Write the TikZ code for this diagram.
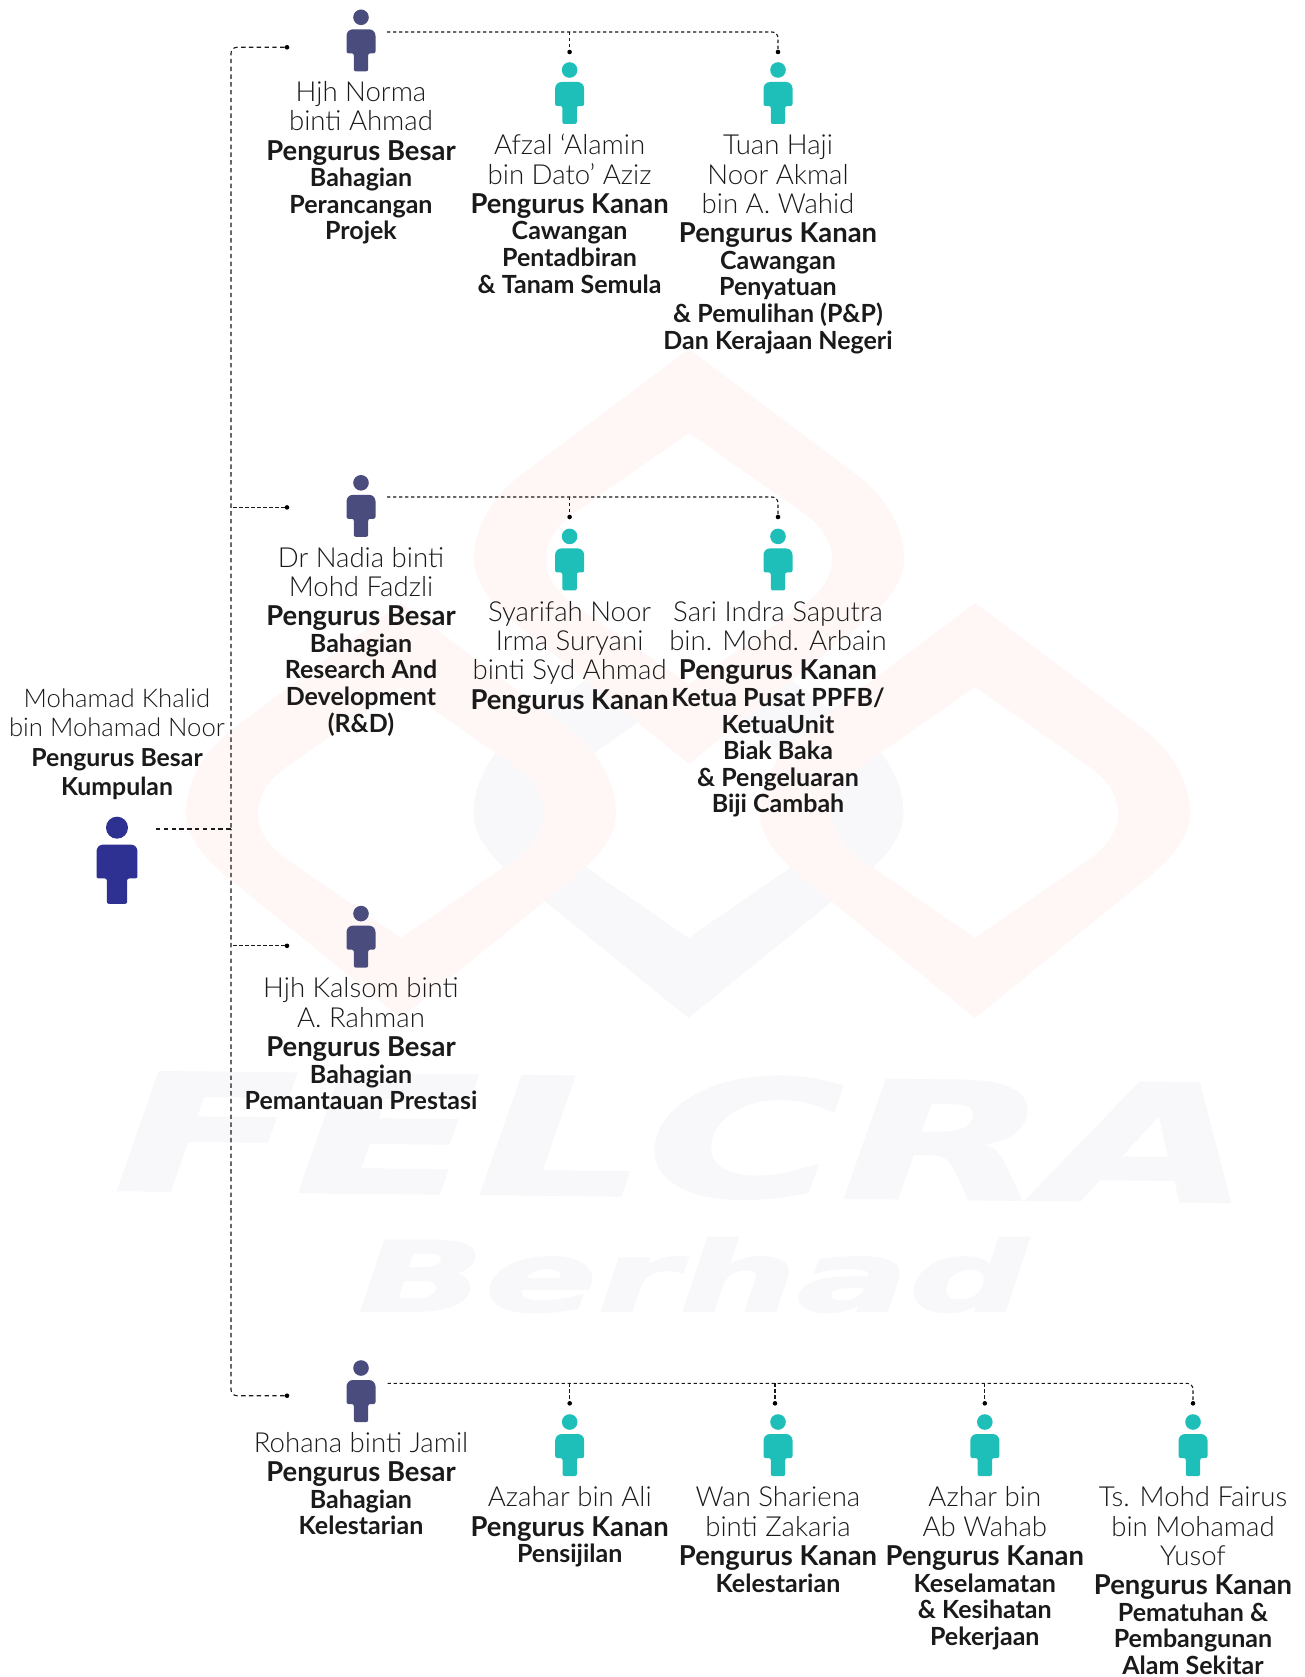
\documentclass[tikz,border=0pt]{standalone}
\usepackage{fontspec}
\setmainfont{Lato}
\newfontfamily\lightfam{Lato Light}
\newfontfamily\boldfam{Lato Bold}
\newfontfamily\wmfam[FakeBold=1.6]{DejaVu Sans Bold Oblique}
\definecolor{rootc}{HTML}{2E3192}
\definecolor{mgrc}{HTML}{494C7C}
\definecolor{tealc}{HTML}{1DBFB8}
\definecolor{wmred}{HTML}{FFF7F6}
\definecolor{wmblue}{HTML}{F8F8FB}
\definecolor{inkc}{HTML}{1A1A1A}
\newcommand\tightlines{\baselineskip=0pt\lineskip=0pt\lineskiplimit=0pt}
\newcommand\fn{\lightfam\fontsize{27.6}{0pt}\selectfont\rule[-7pt]{0pt}{29.3pt}}
\newcommand\fr{\lightfam\fontsize{25.7}{0pt}\selectfont\rule[-7pt]{0pt}{29.3pt}}
\newcommand\ft{\boldfam\fontsize{27.4}{0pt}\selectfont\rule[-7pt]{0pt}{29.3pt}}
\newcommand\frt{\boldfam\fontsize{24.8}{0pt}\selectfont\rule[-7pt]{0pt}{29.3pt}}
\newcommand\fs{\boldfam\fontsize{25}{0pt}\selectfont\rule[-7pt]{0pt}{26.6pt}}
\newcommand\person[5]{%
  \begin{scope}[shift={(#2,#3)},scale=#4]
    \coordinate (#1) at (0,31);
    \fill[#5] (0,8) circle (7.8);
    \fill[#5] [rounded corners=6.5] (-14.5,34) -- (-14.5,20) -- (14.5,20) -- (14.5,34)
      [rounded corners=2] -- (14.5,44) -- (7.2,44) -- (7.2,62) -- (-7.2,62) -- (-7.2,44) -- (-14.5,44) -- cycle;
  \end{scope}}
\newcommand\diamondmark[3]{%
  \fill[#3,even odd rule,shift={(#1,#2)}]
    (0,-210) -- (172,-81) .. controls (200,-58) and (215,-28) .. (215,0)
    .. controls (215,28) and (190,52) .. (160,75) -- (0,205) -- (-160,75)
    .. controls (-190,52) and (-215,28) .. (-215,0) .. controls (-215,-28) and (-200,-58) .. (-172,-81) -- cycle
    (0,-126) -- (116,-45) .. controls (134,-32) and (143,-16) .. (143,0)
    .. controls (143,16) and (134,32) .. (116,45) -- (0,125) -- (-116,45)
    .. controls (-134,32) and (-143,16) .. (-143,0) .. controls (-143,-16) and (-134,-32) .. (-116,-45) -- cycle;}
\tikzset{
  x=1pt,y=-1pt,
  label text/.style={anchor=north,align=center,inner sep=0pt,outer sep=0pt,text=inkc,font=\tightlines,yshift=0.8pt},
  watermark/.style={inner sep=0pt,text=wmblue},
  dotend/.style={circle,fill=black,inner sep=0pt,minimum size=4.6pt},
  link/.style={draw=inkc,line width=1.1pt,dash pattern=on 3.4pt off 2.6pt},
  spine/.style={draw=inkc,line width=1.1pt,dash pattern=on 4.4pt off 3.4pt},
}
\begin{document}
\begin{tikzpicture}
\useasboundingbox (0,0) rectangle (1304,1677);
\fill[white] (0,0) rectangle (1304,1677);
% watermark
\begin{scope}
  \clip (420,1100) -- (420,497) -- (689,724) -- (958,497) -- (958,1100) -- cycle;
  \diamondmark{688.5}{813}{wmblue}
\end{scope}
\diamondmark{401}{813}{wmred}
\diamondmark{975}{813}{wmred}
\diamondmark{689}{559}{wmred}
\node[watermark,xscale=1.64,rotate=-1] (wmA) at (684,1137) {\wmfam\fontsize{162}{170}\selectfont FELCRA};
\node[watermark,xscale=1.71] (wmB) at (693,1275) {\wmfam\fontsize{97}{100}\selectfont Berhad};
% icons
\person{root}{117}{816.4}{1.41}{rootc}
\person{norma}{361}{9.3}{1}{mgrc}
\person{nadia}{361}{474.8}{1}{mgrc}
\person{kalsom}{361}{905.6}{1}{mgrc}
\person{rohana}{361}{1360}{1}{mgrc}
\person{afzal}{569.6}{62}{1}{tealc}
\person{tuan}{778}{62}{1}{tealc}
\person{syarifah}{569.6}{528.4}{1}{tealc}
\person{sari}{778}{528.4}{1}{tealc}
\person{azahar}{569.7}{1414}{1}{tealc}
\person{wan}{778}{1414}{1}{tealc}
\person{azhar}{984.8}{1414}{1}{tealc}
\person{fairus}{1193}{1414}{1}{tealc}
% text
\node[label text] (rootT) at (117,686) {\fr Mohamad Khalid\\\fr bin Mohamad Noor\\\frt Pengurus Besar\\\frt Kumpulan};
\node[label text] (normaT) at (361,80) {\fn Hjh Norma\\\fn binti Ahmad\\\ft Pengurus Besar\\\fs Bahagian\\\fs Perancangan\\\fs Projek};
\node[label text] (afzalT) at (569.6,133.3) {\fn Afzal ‘Alamin\\\fn bin Dato’ Aziz\\\ft Pengurus Kanan\\\fs Cawangan\\\fs Pentadbiran\\\fs \& Tanam Semula};
\node[label text] (tuanT) at (778,133.3) {\fn Tuan Haji\\\fn Noor Akmal\\\fn bin A. Wahid\\\ft Pengurus Kanan\\\fs Cawangan\\\fs Penyatuan\\\fs \& Pemulihan (P\&P)\\\fs Dan Kerajaan Negeri};
\node[label text] (nadiaT) at (361,545.5) {\fn Dr Nadia binti\\\fn Mohd Fadzli\\\ft Pengurus Besar\\\fs Bahagian\\\fs Research And\\\fs Development\\\fs (R\&D)};
\node[label text] (syarifahT) at (569.6,599.7) {\fn Syarifah Noor\\\fn Irma Suryani\\\fn binti Syd Ahmad\\\ft Pengurus Kanan};
\node[label text] (sariT) at (778,599.7) {\fn Sari Indra Saputra\\\fn bin. Mohd. Arbain\\\ft Pengurus Kanan\\\fs Ketua Pusat PPFB/\\\fs KetuaUnit\\\fs Biak Baka\\\fs \& Pengeluaran\\\fs Biji Cambah};
\node[label text] (kalsomT) at (361,976.3) {\fn Hjh Kalsom binti\\\fn A. Rahman\\\ft Pengurus Besar\\\fs Bahagian\\\fs Pemantauan Prestasi};
\node[label text] (rohanaT) at (361,1430.7) {\fn Rohana binti Jamil\\\ft Pengurus Besar\\\fs Bahagian\\\fs Kelestarian};
\node[label text] (azaharT) at (569.7,1485.3) {\fn Azahar bin Ali\\\ft Pengurus Kanan\\\fs Pensijilan};
\node[label text] (wanT) at (778,1485.3) {\fn Wan Shariena\\\fn binti Zakaria\\\ft Pengurus Kanan\\\fs Kelestarian};
\node[label text] (azharT) at (984.8,1485.3) {\fn Azhar bin\\\fn Ab Wahab\\\ft Pengurus Kanan\\\fs Keselamatan\\\fs \& Kesihatan\\\fs Pekerjaan};
\node[label text] (fairusT) at (1193,1485.3) {\fn Ts. Mohd Fairus\\\fn bin Mohamad\\\fn Yusof\\\ft Pengurus Kanan\\\fs Pematuhan \&\\\fs Pembangunan\\\fs Alam Sekitar};
% connector ends
\coordinate (rootOut) at (156,829);
\coordinate (junction) at (231,829);
\coordinate (normaOut) at (387,32);
\coordinate (nadiaOut) at (387,497);
\coordinate (rohanaOut) at (387.5,1383.3);
\node[dotend] (dNorma) at (287,47.3) {};
\node[dotend] (dNadia) at (287,507.4) {};
\node[dotend] (dKalsom) at (287,945.8) {};
\node[dotend] (dRohana) at (287,1395.7) {};
\node[dotend] (dAfzal) at (569.6,52) {};
\node[dotend] (dTuan) at (778,52) {};
\node[dotend] (dSyarifah) at (569.6,517) {};
\node[dotend] (dSari) at (778,517) {};
\node[dotend] (dAzahar) at (569.7,1403.3) {};
\node[dotend] (dWan) at (775,1403.3) {};
\node[dotend] (dAzhar) at (984.8,1403.3) {};
\node[dotend] (dFairus) at (1193,1403.3) {};
% connectors
\draw[spine] (rootOut) -- (junction);
\draw[spine,rounded corners=6] (dNorma) -| (junction);
\draw[spine,rounded corners=6] (dRohana) -| (junction);
\draw[link] (dNadia) -- (dNadia -| junction);
\draw[link] (dKalsom) -- (dKalsom -| junction);
\draw[link,rounded corners=6] (normaOut) -| (dTuan);
\draw[link] (normaOut -| dAfzal) -- (dAfzal);
\draw[link,rounded corners=6] (nadiaOut) -| (dSari);
\draw[link] (nadiaOut -| dSyarifah) -- (dSyarifah);
\draw[link,rounded corners=6] (rohanaOut) -| (dFairus);
\draw[link] (rohanaOut -| dAzahar) -- (dAzahar);
\draw[link] (rohanaOut -| dWan) -- (dWan);
\draw[link] (rohanaOut -| dAzhar) -- (dAzhar);
\end{tikzpicture}
\end{document}
